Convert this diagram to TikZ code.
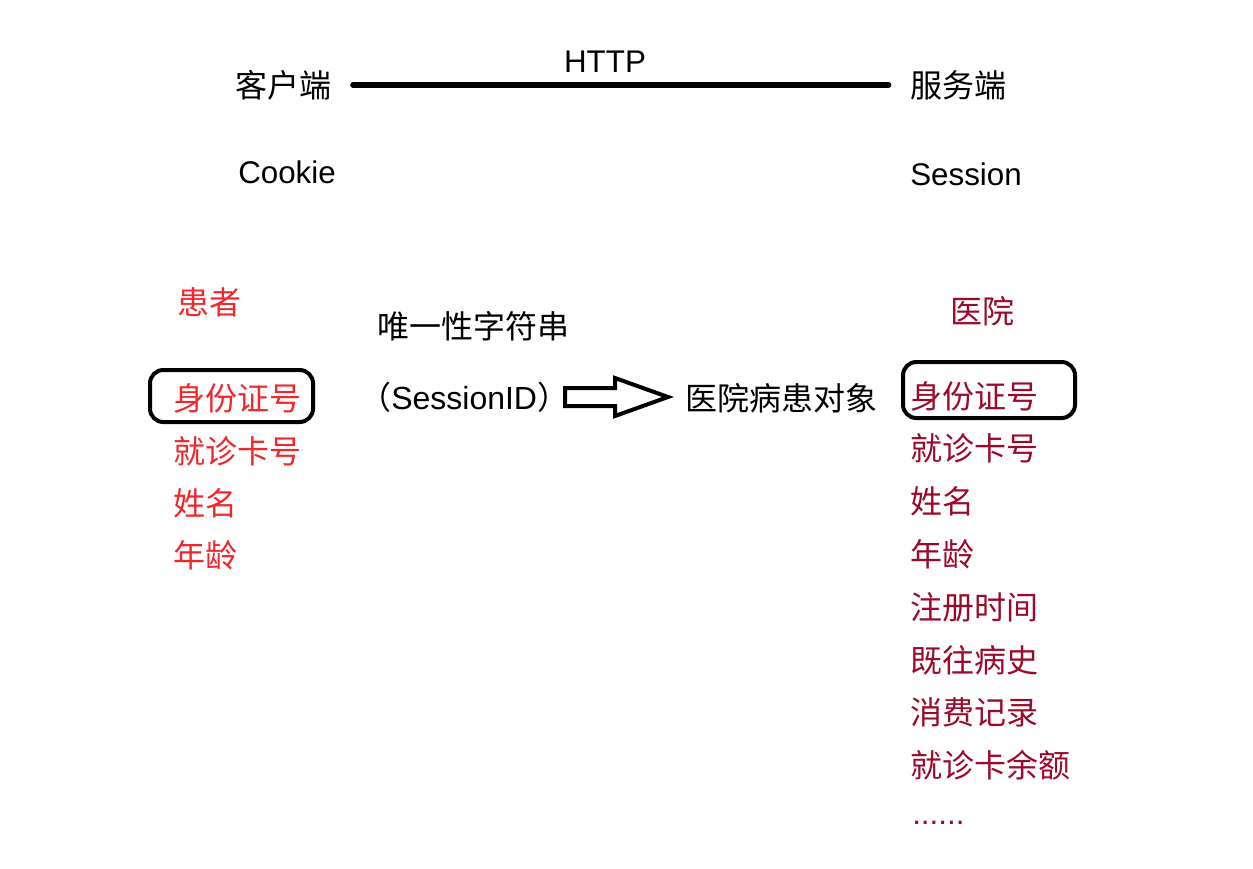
\documentclass[tikz,border=0pt]{standalone}
\usepackage{fontspec}
\setmainfont{Liberation Sans}
\newfontfamily\cjk{Noto Sans CJK SC}
\usepackage{xcolor}
\usepackage{tikz}
\usetikzlibrary{positioning}

\definecolor{patred}{HTML}{F0282D}
\definecolor{hosred}{HTML}{9B0A2A}

\begin{document}
\begin{tikzpicture}[x=0.75pt,y=-0.75pt,
    every node/.style={inner sep=0pt,anchor=west,font=\fontsize{24}{28}\selectfont\cjk},
    pat/.style={text=patred},
    hos/.style={text=hosred},
    idbox/.style={draw,line width=3pt,rounded corners=10pt}]
  \useasboundingbox (0,0) rectangle (1253,868);

  % client and server
  \node (client) at (235,85) {客户端};
  \node (server) at (910,85) {服务端};
  \draw[line width=4pt,line cap=round,shorten <=16pt,shorten >=16pt]
    (client.east) -- (server.west);
  \node[anchor=center,font=\fontsize{23.5}{28}\selectfont] (http) at (605,62) {HTTP};

  \node[font=\fontsize{23.5}{28}\selectfont] (cookie) at (238,172) {Cookie};
  \node[font=\fontsize{23.5}{28}\selectfont] (session) at (910,174) {Session};

  % patient side
  \node[pat] (patient) at (177,302) {患者};
  \node[pat] (pid) at (173,398) {身份证号};
  \node[pat] (pcard) at (173,451) {就诊卡号};
  \node[pat] (pname) at (173,503) {姓名};
  \node[pat] (page) at (173,555) {年龄};
  \draw[idbox] (150,370) rectangle (313,422);

  % the session id
  \node (uniq) at (377,326) {唯一性字符串};
  \node (sid) at (359,397) {（{\rmfamily SessionID}）};
  \node (obj) at (685,398) {医院病患对象};
  \draw[line width=3pt,line join=miter]
    (565,388) -- (615,388) -- (615,378) -- (668,397) -- (615,416)
    -- (615,406) -- (565,406) -- cycle;

  % hospital side
  \node[hos] (hospital) at (950,311) {医院};
  \node[hos] (hid) at (910,396) {身份证号};
  \foreach \t [count=\i] in {就诊卡号,姓名,年龄,注册时间,既往病史,消费记录,就诊卡余额}
    \node[hos] (h\i) at (910,396+52.8*\i) {\t};
  \node[hos,font=\fontsize{23.5}{28}\selectfont] (hmore) at (912,823) {......};
  \draw[idbox] (903,362) rectangle (1075,418);
\end{tikzpicture}
\end{document}
